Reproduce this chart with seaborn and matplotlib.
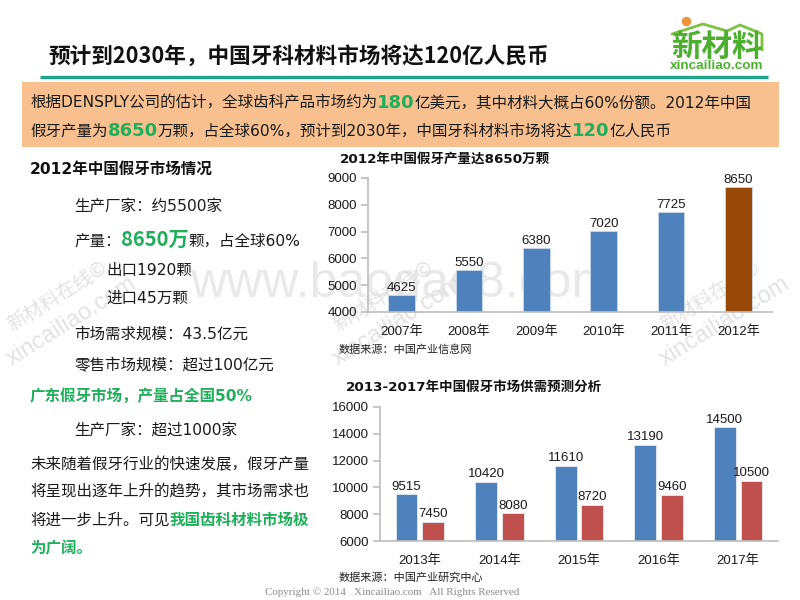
"""Dental materials slide: two bar charts plus text panels."""

import matplotlib
matplotlib.use('Agg')
import matplotlib.pyplot as plt
import pandas as pd
import seaborn as sns

# chart data
output_years = ['2007年', '2008年', '2009年', '2010年', '2011年', '2012年']
output_values = [4625, 5550, 6380, 7020, 7725, 8650]
output_ticks = [4000, 5000, 6000, 7000, 8000, 9000]

forecast_years = ['2013年', '2014年', '2015年', '2016年', '2017年']
supply_values = [9515, 10420, 11610, 13190, 14500]
demand_values = [7450, 8080, 8720, 9460, 10500]
forecast_ticks = [6000, 8000, 10000, 12000, 14000, 16000]

BLUE = '#4F81BD'
RED = '#C0504D'
BROWN = '#984807'
GREEN = '#1FAF5A'
DARK = '#1a1a1a'
LATIN_CJK = ['Liberation Sans', 'Noto Sans CJK SC']
WIDE_CJK = ['DejaVu Sans', 'Noto Sans CJK SC']
CJK_ONLY = ['Noto Sans CJK SC', 'DejaVu Sans']
BODY = 11.2

sns.set_theme(style='white')
plt.rcParams['font.family'] = LATIN_CJK
plt.rcParams['axes.unicode_minus'] = False

fig = plt.figure(figsize=(8, 6), dpi=100, facecolor='white')

# full-page axes in pixel coordinates for everything that is not a chart
page = fig.add_axes([0, 0, 1, 1], zorder=0)
page.set_xlim(0, 800)
page.set_ylim(600, 0)
page.axis('off')


def px_axes(left, top, right, bottom):
    """Add a transparent axes given in page pixels."""
    ax = fig.add_axes([left / 800, 1 - bottom / 600, (right - left) / 800, (bottom - top) / 600], zorder=2)
    ax.patch.set_alpha(0)
    return ax


def put_runs(x, y, runs):
    """Write text pieces one after another on a shared baseline."""
    renderer = fig.canvas.get_renderer()
    for text, size, color, weight, family in runs:
        t = page.text(x, y, text, fontsize=size, color=color, fontweight=weight,
                      family=family, va='baseline', ha='left', zorder=5)
        x += t.get_window_extent(renderer).width


def style_chart(ax, ticks):
    ax.set_ylim(ticks[0], ticks[-1])
    ax.set_yticks(ticks)
    ax.set_xlabel('')
    ax.set_ylabel('')
    ax.spines[['top', 'right']].set_visible(False)
    ax.spines[['left', 'bottom']].set_color('#BFBFBF')
    ax.tick_params(axis='y', left=True, length=5, color='#BFBFBF', labelsize=9.5, labelcolor=DARK, pad=3)
    ax.tick_params(axis='x', bottom=False, labelsize=9.5, labelcolor=DARK, pad=4)


# watermarks
page.text(190, 297, 'www.baogao8.com', fontsize=36, color='#E9E9E9', family='Liberation Sans', va='baseline', zorder=1)
for wx in [12, 338, 665]:
    page.text(wx, 331, '新材料在线©', fontsize=14, color='#E2E2E2', rotation=32, rotation_mode='anchor',
              family=CJK_ONLY, va='baseline', zorder=1)
    page.text(wx, 366, 'xincailiao.com', fontsize=17, color='#E2E2E2', rotation=32, rotation_mode='anchor',
              family='Liberation Sans', va='baseline', zorder=1)

# title bar
page.text(48, 63, '预计到2030年\uff0c中国牙科材料市场将达120亿人民币', fontsize=15.55, color='#111111',
          fontweight='bold', family=CJK_ONLY, va='baseline')
page.plot([40, 768], [77, 77], color='#1FA58A', lw=2.4, solid_capstyle='butt')

# logo
page.plot([672, 703, 727, 740, 762, 762], [34, 24, 31, 25, 34, 50], color='#7DC242', lw=2)
page.scatter([686], [21], s=34, color='#F0933A', zorder=4)
page.text(717, 56, '新材料', fontsize=22, color='#4CAF2E', fontweight='bold', family=CJK_ONLY, ha='center', va='baseline')
page.text(717, 69, 'xincailiao.com', fontsize=9.7, color='#4CAF2E', fontweight='bold',
          family='Liberation Sans', ha='center', va='baseline')

# summary box
page.fill_between([22, 779], 82, 147, color='#F8C08F', lw=0, zorder=1)
put_runs(30, 108, [
    ('根据DENSPLY公司的估计\uff0c全球齿科产品市场约为', BODY, DARK, 'normal', WIDE_CJK),
    ('180', 13, GREEN, 'bold', WIDE_CJK),
    ('亿美元\uff0c其中材料大概占60%份额\u30022012年中国', BODY, DARK, 'normal', WIDE_CJK),
])
put_runs(30, 136, [
    ('假牙产量为', BODY, DARK, 'normal', WIDE_CJK),
    ('8650', 13, GREEN, 'bold', WIDE_CJK),
    ('万颗\uff0c占全球60%\uff0c预计到2030年\uff0c中国牙科材料市场将达', BODY, DARK, 'normal', WIDE_CJK),
    ('120', 13, GREEN, 'bold', WIDE_CJK),
    ('亿人民币', BODY, DARK, 'normal', WIDE_CJK),
])

# left panel
put_runs(30, 174, [('2012年中国假牙市场情况', 11.2, '#111111', 'bold', WIDE_CJK)])
put_runs(74, 211, [('生产厂家\uff1a约5500家', BODY, DARK, 'normal', WIDE_CJK)])
put_runs(74, 246, [
    ('产量\uff1a', BODY, DARK, 'normal', WIDE_CJK),
    ('8650万', 14.5, GREEN, 'bold', CJK_ONLY),
    ('颗\uff0c占全球60%', BODY, DARK, 'normal', WIDE_CJK),
])
put_runs(106, 275, [('出口1920颗', BODY, DARK, 'normal', WIDE_CJK)])
put_runs(106, 303, [('进口45万颗', BODY, DARK, 'normal', WIDE_CJK)])
put_runs(74, 339, [('市场需求规模\uff1a43.5亿元', BODY, DARK, 'normal', WIDE_CJK)])
put_runs(74, 370, [('零售市场规模\uff1a超过100亿元', BODY, DARK, 'normal', WIDE_CJK)])
put_runs(30, 401, [('广东假牙市场\uff0c产量占全国50%', BODY, GREEN, 'bold', WIDE_CJK)])
put_runs(74, 435, [('生产厂家\uff1a超过1000家', BODY, DARK, 'normal', WIDE_CJK)])
put_runs(30, 469, [('未来随着假牙行业的快速发展\uff0c假牙产量', BODY, DARK, 'normal', WIDE_CJK)])
put_runs(30, 497, [('将呈现出逐年上升的趋势\uff0c其市场需求也', BODY, DARK, 'normal', WIDE_CJK)])
put_runs(30, 525, [
    ('将进一步上升\u3002可见', BODY, DARK, 'normal', WIDE_CJK),
    ('我国齿科材料市场极', BODY, GREEN, 'bold', WIDE_CJK),
])
put_runs(30, 553, [('为广阔\u3002', BODY, GREEN, 'bold', WIDE_CJK)])

# chart 1: output per year
page.text(340, 163, '2012年中国假牙产量达8650万颗', fontsize=9.7, color='#111111', fontweight='bold',
          family=WIDE_CJK, va='baseline')
output_df = pd.DataFrame({'year': output_years, 'value': output_values})
ax1 = px_axes(368, 178, 772, 312)
sns.barplot(data=output_df, x='year', y='value', hue='year', width=0.4, legend=False, ax=ax1,
            palette=[BLUE] * 5 + [BROWN], saturation=1, edgecolor='#C9DAEC', linewidth=0.6)
style_chart(ax1, output_ticks)
for bars in ax1.containers:
    ax1.bar_label(bars, fontsize=9.5, color=DARK, padding=1)
page.text(339, 353, '数据来源\uff1a中国产业信息网', fontsize=8, color='#222222', family=CJK_ONLY, va='baseline')

# chart 2: supply and demand forecast
page.text(346, 391, '2013-2017年中国假牙市场供需预测分析', fontsize=9.7, color='#111111', fontweight='bold',
          family=WIDE_CJK, va='baseline')
forecast_df = pd.DataFrame({
    'year': forecast_years * 2,
    'series': ['supply'] * 5 + ['demand'] * 5,
    'value': supply_values + demand_values,
})
ax2 = px_axes(380, 407, 778, 541)
sns.barplot(data=forecast_df, x='year', y='value', hue='series', width=0.67, gap=0.18, legend=False, ax=ax2,
            palette=[BLUE, RED], saturation=1, edgecolor='#E3EAF3', linewidth=0.6)
style_chart(ax2, forecast_ticks)
for bars in ax2.containers:
    ax2.bar_label(bars, fontsize=9.5, color=DARK, padding=1)
page.text(339, 581, '数据来源\uff1a中国产业研究中心', fontsize=8, color='#222222', family=CJK_ONLY, va='baseline')

# footer
page.text(265, 595, 'Copyright © 2014   Xincailiao.com   All Rights Reserved', fontsize=7.9, color='#8A8A8A',
          family='Liberation Serif', va='baseline')

fig.savefig('out.png', dpi=100)
